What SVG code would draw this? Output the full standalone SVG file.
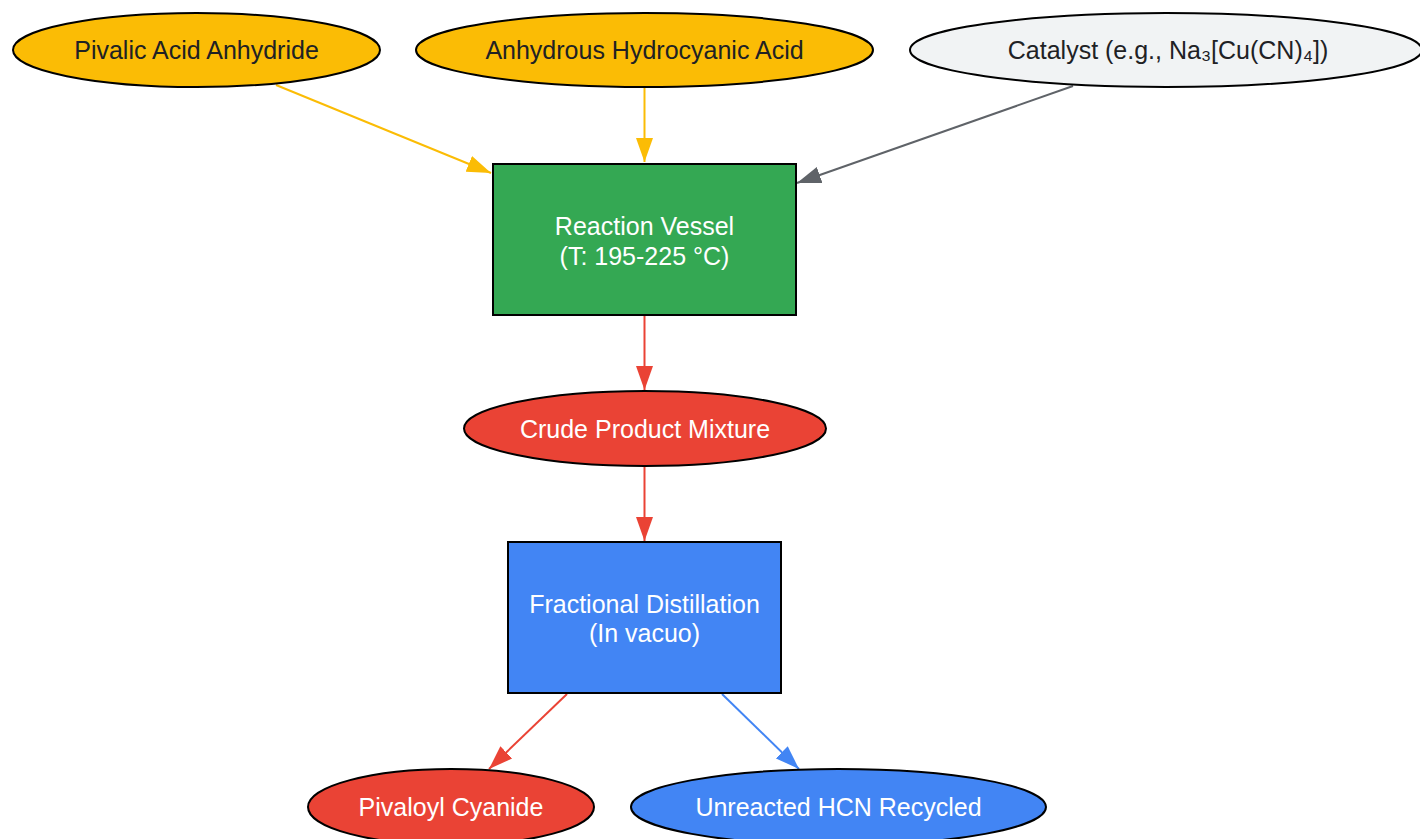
<svg xmlns="http://www.w3.org/2000/svg" width="1420" height="839" viewBox="0 0 1420 839">
<style>
text{font-family:"Liberation Sans",Arial,sans-serif;font-size:25px;text-anchor:middle}
.dk{fill:#202124}
.wt{fill:#ffffff}
.n{stroke:#000000;stroke-width:2}
.e{fill:none;stroke-width:2}
</style>
<defs>
<marker id="aY" markerWidth="24" markerHeight="18" refX="24" refY="9" orient="auto" markerUnits="userSpaceOnUse"><path d="M0,0.5 L24,9 L0,17.5 Z" fill="#FBBC05"/></marker>
<marker id="aG" markerWidth="24" markerHeight="18" refX="24" refY="9" orient="auto" markerUnits="userSpaceOnUse"><path d="M0,0.5 L24,9 L0,17.5 Z" fill="#5F6368"/></marker>
<marker id="aR" markerWidth="24" markerHeight="18" refX="24" refY="9" orient="auto" markerUnits="userSpaceOnUse"><path d="M0,0.5 L24,9 L0,17.5 Z" fill="#EA4335"/></marker>
<marker id="aB" markerWidth="24" markerHeight="18" refX="24" refY="9" orient="auto" markerUnits="userSpaceOnUse"><path d="M0,0.5 L24,9 L0,17.5 Z" fill="#4285F4"/></marker>
</defs>
<rect width="1420" height="839" fill="#ffffff"/>
<g id="connectors">
<line class="e" x1="276" y1="85" x2="491" y2="173" stroke="#FBBC05" marker-end="url(#aY)"/>
<line class="e" x1="644.5" y1="88" x2="644.5" y2="162" stroke="#FBBC05" marker-end="url(#aY)"/>
<line class="e" x1="1073" y1="86" x2="797" y2="183" stroke="#5F6368" marker-end="url(#aG)"/>
<line class="e" x1="644.5" y1="316" x2="644.5" y2="390" stroke="#EA4335" marker-end="url(#aR)"/>
<line class="e" x1="644.5" y1="467" x2="644.5" y2="541" stroke="#EA4335" marker-end="url(#aR)"/>
<line class="e" x1="567" y1="694" x2="489" y2="769" stroke="#EA4335" marker-end="url(#aR)"/>
<line class="e" x1="722" y1="694" x2="799" y2="769" stroke="#4285F4" marker-end="url(#aB)"/>
</g>
<g id="pivalic_anhydride">
<ellipse class="n" cx="196.5" cy="50" rx="183.5" ry="37" fill="#FBBC05"/>
<text class="dk" x="196.5" y="59">Pivalic Acid Anhydride</text>
</g>
<g id="hcn">
<ellipse class="n" cx="644.5" cy="50" rx="228.5" ry="37" fill="#FBBC05"/>
<text class="dk" x="644.5" y="59">Anhydrous Hydrocyanic Acid</text>
</g>
<g id="catalyst">
<ellipse class="n" cx="1166" cy="50" rx="256" ry="37" fill="#F1F3F4"/>
<text class="dk" x="1168" y="59">Catalyst (e.g., Na₃[Cu(CN)₄])</text>
</g>
<g id="reaction_vessel">
<rect class="n" x="493" y="164" width="303" height="151" fill="#34A853"/>
<text class="wt" x="644.5" y="235">Reaction Vessel</text>
<text class="wt" x="644.5" y="265">(T: 195-225 °C)</text>
</g>
<g id="crude">
<ellipse class="n" cx="645" cy="428.5" rx="181" ry="37.5" fill="#EA4335"/>
<text class="wt" x="645" y="437.5">Crude Product Mixture</text>
</g>
<g id="distillation">
<rect class="n" x="508" y="542" width="273" height="151" fill="#4285F4"/>
<text class="wt" x="644.5" y="613">Fractional Distillation</text>
<text class="wt" x="644.5" y="642">(In vacuo)</text>
</g>
<g id="pivaloyl_cyanide">
<ellipse class="n" cx="451" cy="807" rx="143" ry="38" fill="#EA4335"/>
<text class="wt" x="451" y="816">Pivaloyl Cyanide</text>
</g>
<g id="hcn_recycled">
<ellipse class="n" cx="838.5" cy="807" rx="207.5" ry="38" fill="#4285F4"/>
<text class="wt" x="838.5" y="816">Unreacted HCN Recycled</text>
</g>
</svg>
